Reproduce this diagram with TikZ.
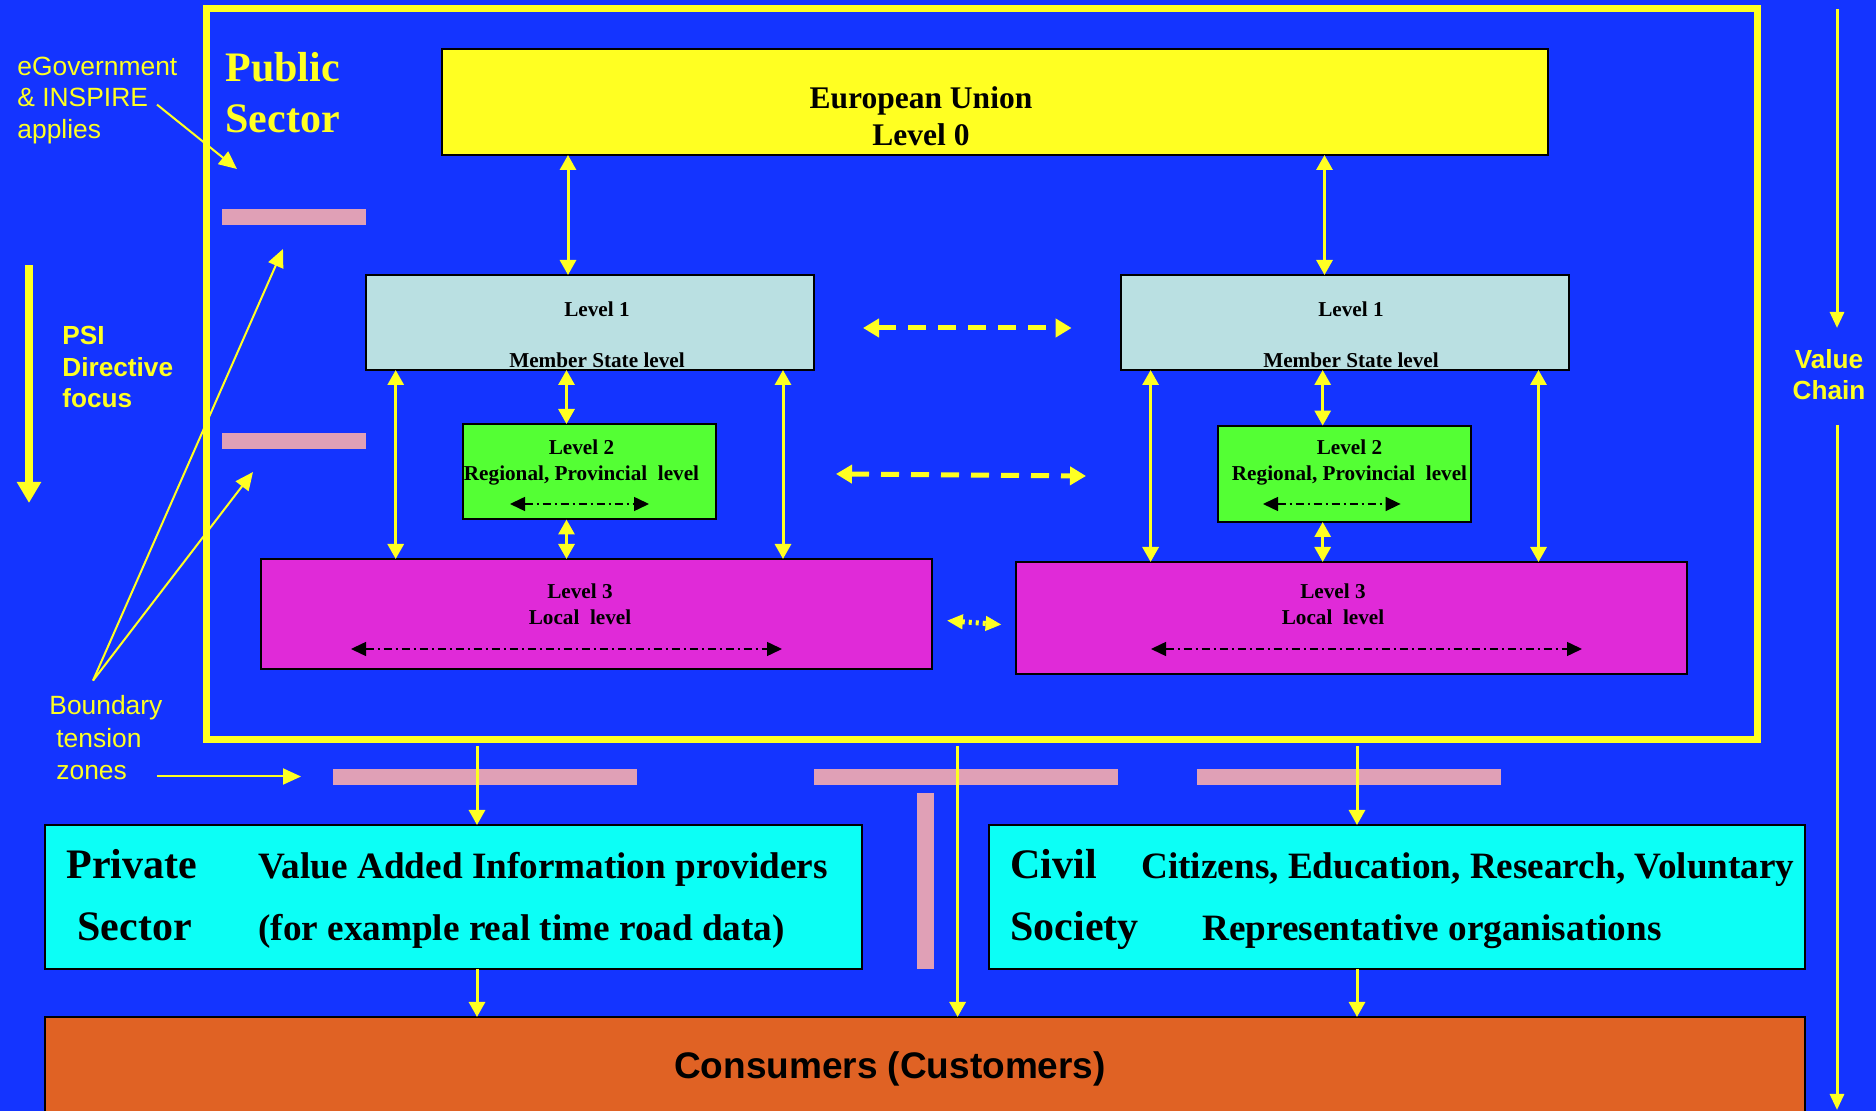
\documentclass[tikz,border=0pt]{standalone}
\usepackage{fontspec}
\setmainfont{Liberation Serif}
\setsansfont{Liberation Sans}
\usetikzlibrary{arrows.meta,fit}
\definecolor{bgblue}{RGB}{20,52,255}
\definecolor{ylw}{RGB}{255,255,34}
\definecolor{lvlone}{RGB}{186,224,226}
\definecolor{lvltwo}{RGB}{84,255,52}
\definecolor{lvlthree}{RGB}{224,42,216}
\definecolor{cyanbox}{RGB}{12,255,246}
\definecolor{orangebox}{RGB}{224,98,36}
\definecolor{pinkbar}{RGB}{224,160,182}
\begin{document}
\begin{tikzpicture}[x=0.5pt,y=-0.5pt,
  box/.style={draw=black, line width=1pt, inner sep=0pt, outer sep=0pt},
  bar/.style={fill=pinkbar, draw=none, inner sep=0pt, outer sep=0pt},
  yarr/.style={draw=ylw, line width=1.5pt, {Triangle[length=7.5pt,width=8pt]}-{Triangle[length=7.5pt,width=8pt]}},
  ysingle/.style={draw=ylw, line width=1.5pt, -{Triangle[length=7.5pt,width=8pt]}},
  dasharr/.style={draw=ylw, line width=2.5pt, dash pattern=on 9pt off 6pt, {Triangle[length=8pt,width=9pt]}-{Triangle[length=8pt,width=9pt]}},
  dotarr/.style={draw=ylw, line width=2.5pt, dash pattern=on 1.5pt off 2pt, {Triangle[length=8pt,width=7pt]}-{Triangle[length=8pt,width=7pt]}},
  blkarr/.style={draw=black, line width=0.75pt, dash pattern=on 4pt off 2pt on 1pt off 2pt, {Triangle[length=7.5pt,width=7pt]}-{Triangle[length=7.5pt,width=7pt]}},
  thinarr/.style={draw=ylw, line width=1pt, -{Triangle[length=9pt,width=8pt]}},
  lvltxt/.style={font=\bfseries\fontsize{10.6pt}{13pt}\selectfont, text=black, inner sep=0pt},
  bigtxt/.style={font=\bfseries\fontsize{18.6pt}{22pt}\selectfont, text=black, inner sep=0pt},
  headtxt/.style={font=\bfseries\fontsize{21pt}{25pt}\selectfont, text=black, inner sep=0pt},
  sidetxt/.style={font=\sffamily\fontsize{13.2pt}{16pt}\selectfont, text=ylw, inner sep=0pt},
  sidebold/.style={font=\sffamily\bfseries\fontsize{13.1pt}{16pt}\selectfont, text=ylw, inner sep=0pt}
]
\fill[bgblue] (0,0) rectangle (1876,1111);
\useasboundingbox (0,0) rectangle (1876,1111);

% outer public sector frame
\node[draw=ylw, line width=3.5pt, inner sep=0pt, outer sep=0pt, fit={(206,9) (1757,740)}] (frame) {};

% boxes
\node[box, fill=ylw, fit={(442,48.6) (1547.5,155)}] (eu) {};
\node[box, fill=lvlone, fit={(366,275) (813.5,370)}] (l1a) {};
\node[box, fill=lvlone, fit={(1120.6,275) (1568.5,370)}] (l1b) {};
\node[box, fill=lvltwo, fit={(463,424) (716,519.5)}] (l2a) {};
\node[box, fill=lvltwo, fit={(1217.8,425.6) (1471,522)}] (l2b) {};
\node[box, fill=lvlthree, fit={(261,559) (932,669)}] (l3a) {};
\node[box, fill=lvlthree, fit={(1016,562) (1687,674)}] (l3b) {};
\node[box, fill=cyanbox, fit={(45,825) (861.5,968.6)}] (priv) {};
\node[box, fill=cyanbox, fit={(989,825) (1805,968.6)}] (civil) {};
\node[box, fill=orangebox, fit={(45,1017) (1805,1140)}] (cons) {};

% pink boundary tension bars
\node[bar, fit={(222,209) (366,225)}] (bar1) {};
\node[bar, fit={(222,433) (366,449)}] (bar2) {};
\node[bar, fit={(333,769) (637,785)}] (bar3) {};
\node[bar, fit={(813.5,769) (1118,785)}] (bar4) {};
\node[bar, fit={(1197,769) (1501,785)}] (bar5) {};
\node[bar, fit={(917,793) (934,968.6)}] (bar6) {};

% texts
\node[headtxt, text=ylw, anchor=base west] (pub1) at (225,82) {Public};
\node[headtxt, text=ylw, anchor=base west] (pub2) at (225,133) {Sector};
\node[font=\bfseries\fontsize{15.75pt}{18pt}\selectfont, inner sep=0pt, anchor=base] (eut1) at (921,109) {European Union};
\node[font=\bfseries\fontsize{15.75pt}{18pt}\selectfont, inner sep=0pt, anchor=base] (eut2) at (921,146) {Level 0};
\node[lvltxt, anchor=base] (l1at1) at (597,317) {Level 1};
\node[lvltxt, anchor=base] (l1at2) at (597,368) {Member State level};
\node[lvltxt, anchor=base] (l1bt1) at (1351,317) {Level 1};
\node[lvltxt, anchor=base] (l1bt2) at (1351,368) {Member State level};
\node[lvltxt, anchor=base] (l2at1) at (581.5,455) {Level 2};
\node[lvltxt, anchor=base] (l2at2) at (581.5,481) {Regional, Provincial\ \ level};
\node[lvltxt, anchor=base] (l2bt1) at (1349.5,455) {Level 2};
\node[lvltxt, anchor=base] (l2bt2) at (1349.5,481) {Regional, Provincial\ \ level};
\node[lvltxt, anchor=base] (l3at1) at (580,599) {Level 3};
\node[lvltxt, anchor=base] (l3at2) at (580,625) {Local\ \ level};
\node[lvltxt, anchor=base] (l3bt1) at (1333,599) {Level 3};
\node[lvltxt, anchor=base] (l3bt2) at (1333,625) {Local\ \ level};

\node[headtxt, anchor=base west] (pvt1) at (66,879) {Private};
\node[headtxt, anchor=base west] (pvt2) at (77,941) {Sector};
\node[bigtxt, anchor=base west] (pvt3) at (258,879) {Value Added Information providers};
\node[bigtxt, anchor=base west] (pvt4) at (258,941) {(for example real time road data)};
\node[headtxt, anchor=base west] (cvt1) at (1010,879) {Civil};
\node[headtxt, anchor=base west] (cvt2) at (1010,941) {Society};
\node[bigtxt, anchor=base west] (cvt3) at (1141,879) {Citizens, Education, Research, Voluntary};
\node[bigtxt, anchor=base west] (cvt4) at (1202,941) {Representative organisations};
\node[font=\sffamily\bfseries\fontsize{18.5pt}{22pt}\selectfont, inner sep=0pt, anchor=base] (const) at (890,1079) {Consumers (Customers)};

\node[sidetxt, anchor=base west] (eg1) at (17,75.7) {eGovernment};
\node[sidetxt, anchor=base west] (eg2) at (17,107) {\& INSPIRE};
\node[sidetxt, anchor=base west] (eg3) at (17,138.5) {applies};
\node[sidebold, anchor=base west] (psi1) at (62,344.5) {PSI};
\node[sidebold, anchor=base west] (psi2) at (62,376.6) {Directive};
\node[sidebold, anchor=base west] (psi3) at (62,408) {focus};
\node[sidebold, anchor=base] (vc1) at (1829,368.4) {Value};
\node[sidebold, anchor=base] (vc2) at (1829,400) {Chain};
\node[sidetxt, anchor=base west] (bt1) at (49,715) {Boundary};
\node[sidetxt, anchor=base west] (bt2) at (56,748) {tension};
\node[sidetxt, anchor=base west] (bt3) at (56,779.7) {zones};

% x positions of vertical connectors
\coordinate (xa) at (568,0);
\coordinate (xb) at (1324.5,0);
\coordinate (xc) at (566.5,0);
\coordinate (xd) at (1322.7,0);
\coordinate (xe) at (395.7,0);
\coordinate (xf) at (783,0);
\coordinate (xg) at (1150.6,0);
\coordinate (xh) at (1538.5,0);
\coordinate (xp) at (477,0);
\coordinate (xm) at (957.6,0);
\coordinate (xq) at (1357,0);

\draw[yarr] (eu.south -| xa) -- (l1a.north -| xa);
\draw[yarr] (eu.south -| xb) -- (l1b.north -| xb);
\draw[yarr] (l1a.south -| xc) -- (l2a.north -| xc);
\draw[yarr] (l1b.south -| xd) -- (l2b.north -| xd);
\draw[yarr] (l2a.south -| xc) -- (l3a.north -| xc);
\draw[yarr] (l2b.south -| xd) -- (l3b.north -| xd);
\draw[yarr] (l1a.south -| xe) -- (l3a.north -| xe);
\draw[yarr] (l1a.south -| xf) -- (l3a.north -| xf);
\draw[yarr] (l1b.south -| xg) -- (l3b.north -| xg);
\draw[yarr] (l1b.south -| xh) -- (l3b.north -| xh);

\draw[dasharr] ([xshift=24.75pt,yshift=-2.75pt]l1a.east) -- ([xshift=-24.5pt,yshift=-2.75pt]l1b.west);
\draw[dasharr] ([xshift=60pt,yshift=-1.1pt]l2a.east) -- ([xshift=-65.9pt,yshift=-1.1pt]l2b.west);
\draw[dotarr] ([xshift=7.4pt,yshift=-3.3pt]l3a.east) -- ([xshift=-7.2pt,yshift=-3.3pt]l3b.west);

% black dash-dot arrows inside boxes
\coordinate (k1a) at (510,504);  \coordinate (k1b) at (649,504);
\coordinate (k2a) at (1263,504); \coordinate (k2b) at (1400.6,504);
\coordinate (k3a) at (351,649);  \coordinate (k3b) at (782,649);
\coordinate (k4a) at (1151,649); \coordinate (k4b) at (1582,649);
\draw[blkarr] (k1a) -- (k1b);
\draw[blkarr] (k2a) -- (k2b);
\draw[blkarr] (k3a) -- (k3b);
\draw[blkarr] (k4a) -- (k4b);

% outflows from public sector
\draw[ysingle] ([yshift=-3pt]frame.south -| xp) -- (priv.north -| xp);
\draw[ysingle] ([yshift=-3pt]frame.south -| xq) -- (civil.north -| xq);
\draw[ysingle] ([yshift=-3pt]frame.south -| xm) -- (cons.north -| xm);
\draw[ysingle] (priv.south -| xp) -- (cons.north -| xp);
\draw[ysingle] (civil.south -| xq) -- (cons.north -| xq);

% side annotations
\coordinate (egt) at (157,104.6); \coordinate (egh) at (237,169);
\draw[thinarr] (egt) -- (egh);
\coordinate (bto) at (93,680.6);
\coordinate (bz1) at (283,249); \coordinate (bz2) at (253,472);
\draw[thinarr] (bto) -- (bz1);
\draw[thinarr] (bto) -- (bz2);
\coordinate (zt) at (157,776.5); \coordinate (zh) at (301,776.5);
\draw[thinarr] (zt) -- (zh);
\coordinate (psit) at (29,265); \coordinate (psih) at (29,503);
\draw[draw=ylw, line width=4pt, -{Triangle[length=10.5pt,width=11.5pt]}] (psit) -- (psih);
\coordinate (vct) at (1837,9); \coordinate (vcg1) at (1837,328);
\coordinate (vcg2) at (1837,425); \coordinate (vcb) at (1837,1110);
\draw[draw=ylw, line width=1.5pt, -{Triangle[length=8pt,width=7pt]}] (vct) -- (vcg1);
\draw[draw=ylw, line width=1.5pt, -{Triangle[length=8pt,width=7pt]}] (vcg2) -- (vcb);
\end{tikzpicture}
\end{document}
